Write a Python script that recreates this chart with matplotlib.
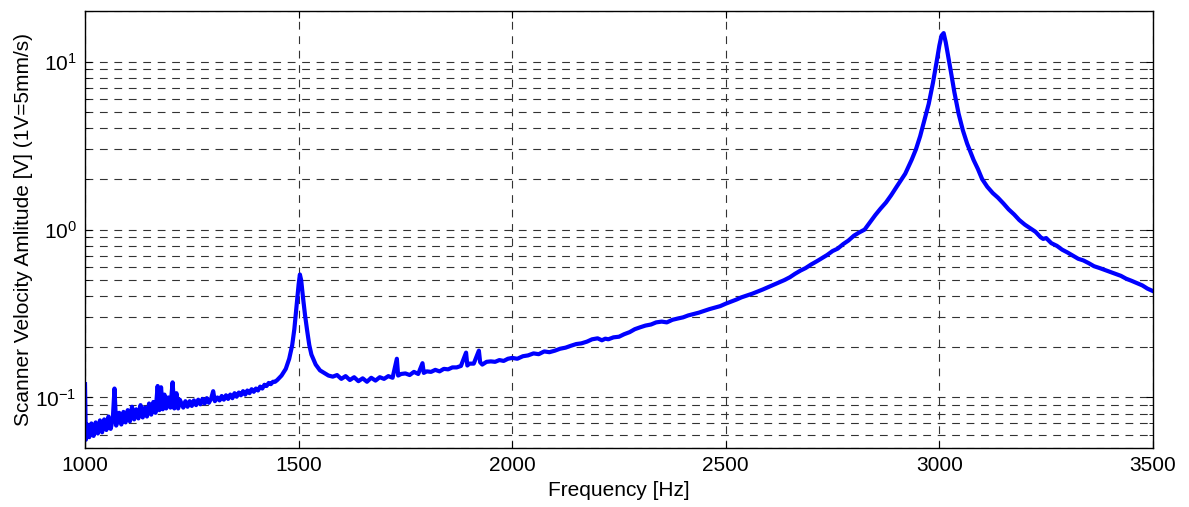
import matplotlib.pyplot as plt
from matplotlib.ticker import LogLocator, MultipleLocator, NullFormatter

# values (frequency in Hz, amplitude in V)
# noisy low band, 1000-1450 Hz
freq_low = [1000, 1002, 1005, 1010, 1015, 1020, 1025, 1030, 1035, 1040, 1045, 1050,
            1055, 1060, 1065, 1069, 1073, 1080, 1085, 1090, 1095, 1100, 1105, 1110,
            1115, 1120, 1125, 1130, 1135, 1140, 1145, 1150, 1155, 1160, 1165, 1170,
            1174, 1178, 1182, 1186, 1190, 1195, 1200, 1205, 1209, 1214, 1218, 1222,
            1230, 1235, 1240, 1245, 1250, 1255, 1260, 1265, 1270, 1275, 1280, 1285,
            1290, 1295, 1300, 1304, 1310, 1315, 1320, 1325, 1330, 1335, 1340, 1345,
            1350, 1355, 1360, 1365, 1370, 1375, 1380, 1385, 1390, 1395, 1400, 1405,
            1410, 1415, 1420, 1425, 1430, 1435, 1440, 1445, 1450]
amp_low = [0.120, 0.056, 0.069, 0.058, 0.070, 0.059, 0.071, 0.061, 0.073, 0.062, 0.074, 0.064,
           0.077, 0.065, 0.074, 0.113, 0.068, 0.081, 0.069, 0.082, 0.071, 0.084, 0.072, 0.088,
           0.074, 0.085, 0.075, 0.090, 0.076, 0.087, 0.077, 0.092, 0.079, 0.094, 0.081, 0.117,
           0.084, 0.115, 0.085, 0.104, 0.086, 0.100, 0.087, 0.123, 0.086, 0.106, 0.086, 0.097,
           0.087, 0.095, 0.088, 0.095, 0.089, 0.096, 0.090, 0.097, 0.091, 0.098, 0.092, 0.099,
           0.093, 0.098, 0.109, 0.095, 0.100, 0.096, 0.102, 0.097, 0.103, 0.098, 0.104, 0.099,
           0.106, 0.101, 0.107, 0.103, 0.109, 0.104, 0.110, 0.106, 0.112, 0.108, 0.113, 0.110,
           0.116, 0.113, 0.119, 0.117, 0.122, 0.120, 0.124, 0.124, 0.127]

# first resonance and the flat band, 1460-2000 Hz
freq_mid = [1460, 1470, 1478, 1485, 1490, 1495, 1500, 1503, 1506, 1510, 1515, 1520,
            1525, 1530, 1540, 1550, 1560, 1570, 1580, 1590, 1600, 1610, 1620, 1630,
            1640, 1650, 1660, 1670, 1680, 1690, 1700, 1710, 1720, 1730, 1733, 1740,
            1750, 1760, 1770, 1780, 1790, 1793, 1800, 1810, 1820, 1830, 1840, 1850,
            1860, 1870, 1880, 1892, 1895, 1900, 1910, 1922, 1925, 1930, 1940, 1950,
            1960, 1970, 1980, 1990]
amp_mid = [0.135, 0.148, 0.170, 0.205, 0.255, 0.345, 0.470, 0.540, 0.500, 0.400, 0.310, 0.250,
           0.205, 0.180, 0.157, 0.145, 0.140, 0.135, 0.133, 0.136, 0.129, 0.134, 0.127, 0.132,
           0.125, 0.130, 0.124, 0.131, 0.126, 0.132, 0.129, 0.134, 0.131, 0.170, 0.135, 0.138,
           0.139, 0.136, 0.142, 0.138, 0.160, 0.140, 0.143, 0.142, 0.146, 0.143, 0.148, 0.147,
           0.151, 0.151, 0.154, 0.185, 0.155, 0.159, 0.159, 0.190, 0.162, 0.157, 0.163, 0.164,
           0.163, 0.167, 0.165, 0.170]

# rising slope, 2000-2900 Hz
freq_rise = [2000, 2012, 2025, 2037, 2050, 2062, 2075, 2087, 2100, 2112, 2125, 2137,
             2150, 2162, 2175, 2187, 2200, 2210, 2218, 2225, 2237, 2250, 2262, 2275,
             2287, 2300, 2312, 2325, 2337, 2350, 2362, 2375, 2387, 2400, 2412, 2425,
             2437, 2450, 2462, 2475, 2487, 2500, 2512, 2525, 2537, 2550, 2562, 2575,
             2587, 2600, 2612, 2625, 2637, 2650, 2662, 2675, 2687, 2700, 2712, 2725,
             2737, 2750, 2762, 2775, 2787, 2800, 2812, 2825, 2837, 2850, 2862, 2875,
             2887, 2900]
amp_rise = [0.172, 0.170, 0.176, 0.178, 0.183, 0.181, 0.188, 0.186, 0.190, 0.195, 0.198, 0.203,
            0.208, 0.210, 0.215, 0.222, 0.225, 0.219, 0.224, 0.222, 0.228, 0.230, 0.238, 0.245,
            0.255, 0.262, 0.268, 0.272, 0.280, 0.283, 0.280, 0.290, 0.295, 0.300, 0.308, 0.314,
            0.320, 0.328, 0.336, 0.343, 0.350, 0.362, 0.372, 0.383, 0.395, 0.405, 0.415, 0.428,
            0.440, 0.455, 0.470, 0.485, 0.500, 0.520, 0.545, 0.570, 0.590, 0.620, 0.645, 0.675,
            0.705, 0.745, 0.770, 0.820, 0.860, 0.920, 0.960, 1.000, 1.100, 1.220, 1.330, 1.450,
            1.600, 1.800]

# main resonance and decay, 2920-3500 Hz
freq_peak = [2920, 2935, 2945, 2955, 2965, 2975, 2985, 2993, 3000, 3005, 3010, 3015,
             3020, 3027, 3035, 3045, 3055, 3065, 3080, 3090, 3100, 3112, 3125, 3137,
             3150, 3162, 3175, 3187, 3200, 3212, 3225, 3237, 3243, 3250, 3262, 3275,
             3287, 3300, 3312, 3325, 3337, 3350, 3362, 3375, 3387, 3400, 3412, 3425,
             3437, 3450, 3462, 3475, 3487, 3500]
amp_peak = [2.15, 2.60, 3.00, 3.60, 4.50, 5.60, 7.50, 9.80, 12.5, 14.3, 14.8, 13.0,
            11.0, 8.70, 6.60, 4.90, 3.90, 3.25, 2.60, 2.30, 2.00, 1.80, 1.65, 1.55,
            1.43, 1.32, 1.23, 1.14, 1.07, 1.02, 0.97, 0.90, 0.88, 0.89, 0.83, 0.80,
            0.76, 0.73, 0.70, 0.67, 0.655, 0.63, 0.605, 0.59, 0.575, 0.56, 0.545, 0.53,
            0.51, 0.495, 0.48, 0.465, 0.445, 0.43]

freq = freq_low + freq_mid + freq_rise + freq_peak
amp = amp_low + amp_mid + amp_rise + amp_peak

plt.rcParams['font.family'] = ['Liberation Sans', 'DejaVu Sans']
plt.rcParams['mathtext.default'] = 'regular'

fig = plt.figure(figsize=(11.89, 5.07), dpi=100)
ax = fig.add_axes([0.0715, 0.1164, 0.8982, 0.8616])

ax.semilogy(freq, amp, color='#0000ff', linewidth=3.0)

ax.set_xlim(1000, 3500)
ax.set_ylim(0.05, 20)
ax.xaxis.set_major_locator(MultipleLocator(500))
ax.yaxis.set_major_locator(LogLocator(base=10, numticks=10))
ax.yaxis.set_minor_locator(LogLocator(base=10, subs=range(2, 10), numticks=20))
ax.yaxis.set_minor_formatter(NullFormatter())

grid_style = dict(color='#333333', linewidth=0.8, linestyle=(0, (7, 6)))
ax.grid(True, which='major', axis='both', **grid_style)
ax.grid(True, which='minor', axis='y', **grid_style)

ax.tick_params(which='both', direction='in', top=True, right=True, labelsize=15)
ax.tick_params(which='major', length=5, pad=6)
ax.tick_params(which='minor', length=3)
for s in ax.spines.values():
    s.set_linewidth(1.0)

ax.set_xlabel('Frequency [Hz]', fontsize=15, labelpad=4)
ax.set_ylabel('Scanner Velocity Amlitude [V] (1V=5mm/s)', fontsize=15, labelpad=2)

fig.savefig('out.png', dpi=100)
